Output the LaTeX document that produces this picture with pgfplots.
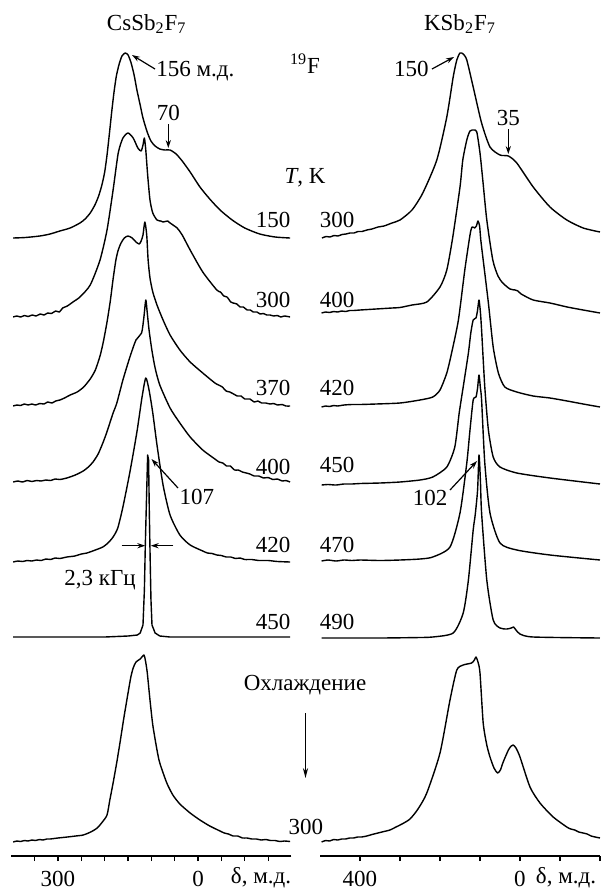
\documentclass[border=0pt]{standalone}
\usepackage{fontspec}
\setmainfont{Liberation Serif}
\usepackage{pgfplots}
\pgfplotsset{compat=1.18}
\usetikzlibrary{arrows.meta}
\newcommand\lf{\fontsize{11.5}{13}\selectfont}
\pgfplotsset{
  specax/.style={
    scale only axis, anchor=south west, height=428pt,
    ymin=0, ymax=856, x dir=reverse, clip=false,
    axis x line=bottom, axis y line=none,
    x axis line style={-, line width=0.6pt},
    tick align=outside, major tick length=2.5pt, minor tick length=2.5pt,
    every tick/.style={black, line width=0.6pt},
    tick label style={font=\lf, /pgf/number format/assume math mode=true},
    xticklabel style={yshift=-1pt},
  },
  sp/.style={black, line width=0.7pt, smooth, tension=0.4, line join=round, mark=none},
  spk/.style={black, line width=0.7pt, sharp plot, line join=round, mark=none},
}
\begin{document}
\lf
\begin{tikzpicture}
\path[use as bounding box] (0,0) rectangle (301.5pt,-445.5pt);
% ---------------- left panel: CsSb2F7 ----------------
\begin{axis}[specax, at={(5.65pt,-428pt)}, width=140.1pt,
  xmin=-200, xmax=400, xtick={300,0},
  minor xtick={350,250,200,150,100,50,-50,-100,-150}]
% 150 K
\addplot[sp] table[x=d, y expr=\thisrow{h}+618] {
d h
396 0
370 0.5
339 2
317 4
296 7
274 10
253 15
242 19
231 25
221 33
213 42
206 53
200 66
195 83
190 104
185 126
180 146
175 162
169 174
163 182
156 185
150 183
144 176
137 163
131 148
124 133
118 120
109 106
101 97
92 92
82 89
71 88
60 88
47 84
34 77
17 66
-4 51
-25 39
-47 28
-73 18
-100 10
-132 4
-165 1
-197 0
};
% 300 K
\addplot[sp] table[x=d, y expr=\thisrow{h}+539] {
d h
396 0
388 1
380 0
372 1.5
364 0.5
355 2
347 1
338 3
330 2
322 4
314 3.5
305 6
297 5
290 9
280 11
268 15
253 20
231 32
210 57
195 87
182 127
171 164
161 179
150 184
139 179
129 169
122 166
118 172
115 179
112 167
108 142
103 117
97 104
88 97
80 96
75 95
65 96
60 94
45 89
34 82
17 67
-10 45
-40 27
-48 25
-55 21
-62 20
-70 15
-75 14
-83 13
-90 10
-97 10
-105 7
-112 7
-118 5
-126 5
-133 3
-140 3.5
-147 2
-154 2
-162 1
-170 1.5
-177 0
-185 1
-197 0
};
% 370 K
\addplot[sp] table[x=d, y expr=\thisrow{h}+450] {
d h
396 0
388 1
380 0.5
372 2
364 1
356 2
348 1
339 2.5
330 2
322 4
313 3
305 5
296 6
286 8
274 11
259 14
245 19
231 27
220 36
210 50
203 64
195 84
188 105
182 127
176 146
171 156
165 163
158 168
150 170
141 168
133 164
126 162
122 165
118 171
114 184
110 171
107 146
103 128
97 114
88 101
75 86
60 71
39 56
17 44
-10 33
-36 23
-44 21
-52 19
-60 15
-68 14
-76 12
-84 10
-92 10
-100 7
-111 7
-120 4
-128 5
-136 3
-145 3
-154 2
-162 2.5
-170 1
-180 1.5
-188 0
-197 0
};
% 400 K
\addplot[sp] table[x=d, y expr=\thisrow{h}+374] {
d h
396 0
386 1
376 0
366 1.5
356 0.5
346 1.5
336 1
326 2
316 1.5
306 3
296 2.5
281 4
263 7
246 11
235 15
225 20
214 28
204 39
196 49
189 59
182 69
174 79
161 102
146 125
133 142
121 149
116 165
112 182
109 170
105 152
99 132
92 114
82 97
60 74
39 59
17 45
-10 32
-36 23
-45 20
-53 19
-61 16
-69 16
-78 12
-86 12
-95 10
-103 9
-111 8
-120 6
-130 6
-140 4
-150 4.5
-160 2.5
-170 3
-180 1
-188 1.5
-197 0
};
% 420 K
\addplot[sp] table[x=d, y expr=\thisrow{h}+294] {
d h
396 0
386 1
376 0.5
366 1.5
356 1
346 2
336 1.5
326 3
316 2.5
306 4
296 3.5
281 5
264 6
250 8
238 9
220 12
204 15
193 19
182 25
172 34
161 55
146 90
131 130
120 165
112 184
105 172
97 149
88 117
75 77
60 47
39 27
17 17
-10 11
-20 9
-30 8.5
-40 7
-50 6.5
-60 5
-70 5
-80 3.5
-90 4
-100 2.5
-115 2.5
-130 1.5
-150 1.5
-170 0.5
-197 0
};
% 450 K
\addplot[spk] table[x=d, y expr=\thisrow{h}+219] {
d h
396 0
200 0
150 1
130 2
124 4
118 12
115 47
113 92
110 147
108 182
106 177
104.5 127
102.6 77
100.9 37
98.7 12
92 4
82 1
60 0
-197 0
};
% cooling, 300 K
\addplot[sp] table[x=d, y expr=\thisrow{h}+14] {
d h
396 0
388 1
380 0.5
372 1.5
364 1
356 2
348 1.5
340 2.5
332 2
324 3
317 3
300 4
280 5
262 6
246 7
230 10
216 14
205 20
195 27
189 42
182 59
174 80
167 100
159 124
150 149
144 165
139 174
133 180
124 183
116 187
113 182
109 170
103 142
97 117
88 92
82 79
67 59
54 47
39 38
17 29
-4 22
-25 16
-47 11
-56 9
-65 8
-75 6
-85 6
-95 4
-105 4
-115 3
-125 3
-135 2
-145 2.5
-155 1.5
-165 1.5
-175 0.5
-185 1
-197 0.5
};
\end{axis}
% ---------------- right panel: KSb2F7 ----------------
\begin{axis}[specax, at={(160pt,-428pt)}, width=140pt,
  xmin=-200, xmax=500, xtick={400,0},
  minor xtick={300,200,100,-100,-200}]
% 300 K
\addplot[sp] table[x=d, y expr=\thisrow{h}+618] {
d h
495 0
485 1.5
475 1
465 2.5
455 2
445 3.5
435 4
425 5
415 5
405 6.5
395 6.5
383 8
370 9
355 11
340 12
320 15
300 18
270 28
243 45
208 78
183 121
167 161
158 178
150 185
142 184
133 178
117 151
96 115
75 91
50 83
29 82
8 75
-33 51
-75 31
-117 18
-158 10
-200 6
};
% 400 K
\addplot[sp] table[x=d, y expr=\thisrow{h}+543] {
d h
496 0
486 1
476 0.5
466 1.5
456 1
446 2
436 1.5
426 2.5
416 2.5
400 3
380 3.5
360 4
340 4.5
320 5
300 5.5
270 8
233 11
200 26
183 43
168 76
150 126
143 153
133 173
125 182
115 183
108 181
100 160
93 133
83 93
68 53
55 37
43 30
25 24
12 23
5 22
-3 19
-33 13
-75 10
-118 6
-158 3
-200 0
};
% 420 K
\addplot[sp] table[x=d, y expr=\thisrow{h}+449] {
d h
496 0
486 1
476 0.5
466 1.5
456 1
440 2
420 2.5
400 2.5
360 3
300 4
250 7
218 10
200 17
183 34
171 54
154 87
138 137
125 172
120 180
113 179
109 181
105 186
101 181
98 167
92 147
79 104
67 60
54 34
38 20
8 15
-33 11
-75 9
-118 6
-158 3
-200 0
};
% 450 K
\addplot[sp] table[x=d, y expr=\thisrow{h}+371] {
d h
496 0
480 0.5
460 0
440 1
420 1
400 1.5
350 2
300 3
250 5
218 8
183 18
163 38
152 72
142 98
129 132
123 152
117 165
110 167
106 175
102.5 185
99 173
96 155
88 98
79 55
67 28
50 18
8 12
-75 7
-200 1
};
% 470 K
\addplot[sp] table[x=d, y expr=\thisrow{h}+295] {
d h
496 0
480 1
460 0
440 1
420 0.5
400 1
350 0.5
300 1
250 2
218 4
175 14
150 48
133 98
125 131
117 161
110 164
106 173
102.5 186
99 173
96 161
88 98
75 48
50 18
8 11
-75 6
-200 1
};
% 490 K
\addplot[sp] table[x=d, y expr=\thisrow{h}+218] {
d h
496 0
350 0
250 0.5
218 1
167 5
142 25
129 58
117 108
112 123
106 148
102.5 183
99 158
96 125
83 58
67 18
50 10
33 9
22 10
16 11
10 8
0 4
-33 1
-200 0
};
% cooling, 300 K
\addplot[sp] table[x=d, y expr=\thisrow{h}+14] {
d h
496 0
486 1.5
476 1
466 2.5
456 2
446 3
436 3
426 4
416 4
406 5
396 5
383 6
370 7.5
355 9
340 10.5
325 12
310 15
295 18
275 23
255 33
233 49
200 89
175 142
158 172
142 177
121 179
114 182
110 185
105 180
100 169
92 119
83 97
75 85
65 74
56 69
49 72
42 80
29 92
22 96
17 97
10 94
0 85
-25 55
-50 39
-83 25
-117 15
-127 13
-137 12
-147 10
-158 9
-168 8
-178 6
-188 5
-200 4
};
\end{axis}
% ---------------- annotations (pixel coordinates) ----------------
\begin{scope}[x=0.5pt, y=-0.5pt, every node/.style={font=\lf, inner sep=0pt}]
\node at (146.7,24) {CsSb\textsubscript{2}F\textsubscript{7}};
\node at (460,24) {KSb\textsubscript{2}F\textsubscript{7}};
\node at (305,64) {\textsuperscript{19}F};
\node at (305,178) {\textit{T}, K};
% left peak labels
\node[anchor=west] at (156,71) {156 м.д.};
\draw[line width=0.6pt, -{Stealth[length=4pt,width=2.6pt]}] (155,69) -- (132,55);
\node at (168.3,113) {70};
\draw[line width=0.6pt, -{Stealth[length=4pt,width=2.6pt]}] (168.3,124) -- (168.3,148);
\node at (197,497) {107};
\draw[line width=0.6pt, -{Stealth[length=4pt,width=2.6pt]}] (178,488) -- (151.5,459);
\node at (100,580) {2,3 кГц};
\draw[line width=0.6pt, -{Stealth[length=4pt,width=2.6pt]}] (121.7,545.7) -- (145.3,545.7);
\draw[line width=0.6pt, -{Stealth[length=4pt,width=2.6pt]}] (173.3,545.7) -- (150.7,545.7);
% right peak labels
\node[anchor=east] at (429,69) {150};
\draw[line width=0.6pt, -{Stealth[length=4pt,width=2.6pt]}] (432,69) -- (454,57);
\node at (508.3,118) {35};
\draw[line width=0.6pt, -{Stealth[length=4pt,width=2.6pt]}] (508.3,129) -- (508.3,154);
\node at (430,498) {102};
\draw[line width=0.6pt, -{Stealth[length=4pt,width=2.6pt]}] (450,490) -- (477,461);
% temperatures
\node at (273,220) {150};
\node at (273,300) {300};
\node at (273,388) {370};
\node at (273,467) {400};
\node at (273,545) {420};
\node at (273,622) {450};
\node at (337,220) {300};
\node at (337,300) {400};
\node at (337,388) {420};
\node at (337,465) {450};
\node at (337,545) {470};
\node at (337,622) {490};
% cooling
\node at (305,685) {Охлаждение};
\draw[line width=0.6pt, -{Stealth[length=5pt,width=2.6pt]}] (305.5,713) -- (305.5,778);
\node at (306,827) {300};
% axis names
\node at (261,878) {δ, м.д.};
\node at (566,878) {δ, м.д.};
\end{scope}
\end{tikzpicture}
\end{document}
